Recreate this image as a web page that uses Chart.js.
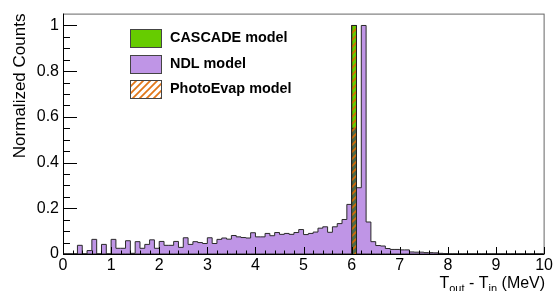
<!DOCTYPE html>
<html>
<head>
<meta charset="utf-8">
<script src="https://cdn.jsdelivr.net/npm/chart.js@4.4.0/dist/chart.umd.min.js"></script>
<style>
html, body { margin: 0; padding: 0; background: #fff; }
canvas { display: block; }
</style>
</head>
<body>
<canvas id="grafico" width="555" height="291"></canvas>
<script>
// histogram, 100 bins of 0.1 MeV from 0 to 10
const binStart = 0;
const binWidth = 0.1;

const ndlModel = [
    0, 0, 0, 0.038, 0, 0.015, 0.064, 0, 0.042, 0,
    0.064, 0.025, 0.025, 0.058, 0.003, 0.054, 0.025, 0.042, 0.062, 0.025,
    0.055, 0.038, 0.038, 0.055, 0.029, 0.071, 0.042, 0.054, 0.05, 0.046,
    0.071, 0.046, 0.064, 0.07, 0.065, 0.081, 0.075, 0.072, 0.07, 0.093,
    0.075, 0.075, 0.09, 0.08, 0.094, 0.086, 0.09, 0.086, 0.094, 0.107,
    0.085, 0.09, 0.096, 0.113, 0.119, 0.095, 0.119, 0.133, 0.151, 0.217,
    0.55, 0.29, 1.0, 0.14, 0.054, 0.037, 0.035, 0.024, 0.02, 0.02,
    0.018, 0.018, 0.009, 0.008, 0.008, 0.006, 0.006, 0.005, 0.003, 0.002,
    0, 0, 0, 0, 0, 0, 0, 0, 0, 0,
    0, 0, 0, 0, 0, 0, 0, 0, 0, 0
];

const cascadeModel = [
    0, 0, 0, 0, 0, 0, 0, 0, 0, 0,
    0, 0, 0, 0, 0, 0, 0, 0, 0, 0,
    0, 0, 0, 0, 0, 0, 0, 0, 0, 0,
    0, 0, 0, 0, 0, 0, 0, 0, 0, 0,
    0, 0, 0, 0, 0, 0, 0, 0, 0, 0,
    0, 0, 0, 0, 0, 0, 0, 0, 0, 0,
    1.0, 0, 0, 0, 0, 0, 0, 0, 0, 0,
    0, 0, 0, 0, 0, 0, 0, 0, 0, 0,
    0, 0, 0, 0, 0, 0, 0, 0, 0, 0,
    0, 0, 0, 0, 0, 0, 0, 0, 0, 0
];

const photoEvapModel = [
    0, 0, 0, 0, 0, 0, 0, 0, 0, 0,
    0, 0, 0, 0, 0, 0, 0, 0, 0, 0,
    0, 0, 0, 0, 0, 0, 0, 0, 0, 0,
    0, 0, 0, 0, 0, 0, 0, 0, 0, 0,
    0, 0, 0, 0, 0, 0, 0, 0, 0, 0,
    0, 0, 0, 0, 0, 0, 0, 0, 0, 0,
    1.0, 0, 0, 0, 0, 0, 0, 0, 0, 0,
    0, 0, 0, 0, 0, 0, 0, 0, 0, 0,
    0, 0, 0, 0, 0, 0, 0, 0, 0, 0,
    0, 0, 0, 0, 0, 0, 0, 0, 0, 0
];

const xTicks = [0, 1, 2, 3, 4, 5, 6, 7, 8, 9, 10];
const yTicks = [0, 0.2, 0.4, 0.6, 0.8, 1.0];

const fonte = '"Liberation Sans", Arial, Helvetica, sans-serif';
Chart.defaults.font.family = fonte;

// stepped line points: one per bin low edge + closing point at the last edge
function toSteps(valores) {
    const pts = valores.map((v, i) => ({ x: binStart + i * binWidth, y: v }));
    pts.push({ x: binStart + valores.length * binWidth, y: valores[valores.length - 1] });
    return pts;
}

// orange hatch pattern
const tile = document.createElement('canvas');
tile.width = 7; tile.height = 7;
const tc = tile.getContext('2d');
tc.strokeStyle = 'rgba(222,104,0,0.9)';
tc.lineWidth = 1.8;
tc.beginPath();
tc.moveTo(-1, 8); tc.lineTo(8, -1);
tc.moveTo(-4, 4); tc.lineTo(4, -4);
tc.moveTo(3, 11); tc.lineTo(11, 3);
tc.stroke();
const hatch = tc.createPattern(tile, 'repeat');

const verde = '#66cc00';
const roxo = '#bf95e6';
const sobreposto = '#4f6a47';

const rootStyle = {
    id: 'rootStyle',
    afterDatasetsDraw(chart) {
        const { ctx, chartArea: a, scales: { x, y } } = chart;
        ctx.save();

        // frame
        ctx.strokeStyle = '#666';
        ctx.lineWidth = 1;
        ctx.strokeRect(a.left + 0.5, a.top + 0.5, a.right - a.left - 0.5, a.bottom - a.top);
        ctx.strokeStyle = '#000';
        ctx.beginPath();
        ctx.moveTo(a.left + 0.5, a.top);
        ctx.lineTo(a.left + 0.5, a.bottom + 0.5);
        ctx.lineTo(a.right, a.bottom + 0.5);
        ctx.stroke();

        // ticks inside the frame
        ctx.beginPath();
        for (let i = 0; i <= 21; i++) {
            const py = Math.round(y.getPixelForValue(i * 0.05)) + 0.5;
            if (py < a.top + 1) continue;
            const len = i % 4 === 0 ? 14 : 7;
            ctx.moveTo(a.left, py);
            ctx.lineTo(a.left + len, py);
        }
        for (let i = 0; i <= 50; i++) {
            const px = Math.round(x.getPixelForValue(i * 0.2)) + 0.5;
            const len = i % 5 === 0 ? 7 : 3.5;
            ctx.moveTo(px, a.bottom);
            ctx.lineTo(px, a.bottom - len);
        }
        ctx.stroke();

        // y title
        ctx.fillStyle = '#000';
        ctx.save();
        ctx.translate(25, a.top);
        ctx.rotate(-Math.PI / 2);
        ctx.font = '17px ' + fonte;
        ctx.textAlign = 'right';
        ctx.textBaseline = 'alphabetic';
        ctx.fillText('Normalized Counts', 0, 0);
        ctx.restore();

        // x title with subscripts
        const partes = [['T', 0], ['out', 1], [' - T', 0], ['in', 1], [' (MeV)', 0]];
        let largura = 0;
        partes.forEach(p => {
            ctx.font = (p[1] ? '11px ' : '16px ') + fonte;
            largura += ctx.measureText(p[0]).width;
        });
        let tx = a.right + 1 - largura;
        ctx.textAlign = 'left';
        ctx.textBaseline = 'alphabetic';
        partes.forEach(p => {
            ctx.font = (p[1] ? '11px ' : '16px ') + fonte;
            ctx.fillText(p[0], tx, p[1] ? 292 : 288);
            tx += ctx.measureText(p[0]).width;
        });

        // legend
        const itens = [chart.data.datasets[2], chart.data.datasets[1], chart.data.datasets[0]];
        const topos = [29, 55, 80];
        ctx.font = 'bold 14.4px ' + fonte;
        ctx.textBaseline = 'middle';
        itens.forEach((ds, k) => {
            const by = topos[k];
            ctx.fillStyle = ds.legendFill;
            ctx.fillRect(130, by, 32, 18);
            if (ds.legendFill === '#fff') {
                ctx.fillStyle = hatch;
                ctx.fillRect(130, by, 32, 18);
            }
            ctx.strokeStyle = '#444';
            ctx.lineWidth = 1;
            ctx.strokeRect(130.5, by + 0.5, 31, 18);
            ctx.fillStyle = '#000';
            ctx.fillText(ds.label, 170, by + 9.5);
        });

        ctx.restore();
    }
};

new Chart(document.getElementById('grafico'), {
    type: 'line',
    data: {
        datasets: [
            {
                label: 'PhotoEvap model',
                data: toSteps(photoEvapModel),
                stepped: 'before',
                fill: 'origin',
                backgroundColor: hatch,
                borderColor: '#222',
                borderWidth: 1,
                pointRadius: 0,
                legendFill: '#fff',
                order: 0
            },
            {
                label: 'NDL model',
                data: toSteps(ndlModel),
                stepped: 'before',
                fill: 'origin',
                backgroundColor: roxo,
                borderColor: '#2a2a2a',
                borderWidth: 1,
                pointRadius: 0,
                legendFill: roxo,
                segment: {
                    backgroundColor: c => cascadeModel[c.p0DataIndex] > 0 ? sobreposto : undefined
                },
                order: 1
            },
            {
                label: 'CASCADE model',
                data: toSteps(cascadeModel),
                stepped: 'before',
                fill: 'origin',
                backgroundColor: verde,
                borderColor: '#222',
                borderWidth: 1,
                pointRadius: 0,
                legendFill: verde,
                order: 2
            }
        ]
    },
    options: {
        responsive: false,
        devicePixelRatio: 1,
        animation: false,
        events: [],
        layout: { padding: { top: 12, right: 10, left: 0, bottom: 0 } },
        plugins: { legend: { display: false }, tooltip: { enabled: false } },
        scales: {
            x: {
                type: 'linear',
                min: 0,
                max: 10,
                afterBuildTicks: s => { s.ticks = xTicks.map(v => ({ value: v })); },
                afterFit: s => { s.height = 37; },
                ticks: { color: '#000', font: { size: 16 }, padding: 2, maxRotation: 0, autoSkip: false },
                grid: { display: false, drawTicks: false },
                border: { display: false }
            },
            y: {
                min: 0,
                max: 1.052,
                afterBuildTicks: s => { s.ticks = yTicks.map(v => ({ value: v })); },
                afterFit: s => { s.width = 63; },
                ticks: {
                    color: '#000',
                    font: { size: 16 },
                    padding: 4,
                    callback: v => String(Number(v.toFixed(1)))
                },
                grid: { display: false, drawTicks: false },
                border: { display: false }
            }
        }
    },
    plugins: [rootStyle]
});
</script>
</body>
</html>
